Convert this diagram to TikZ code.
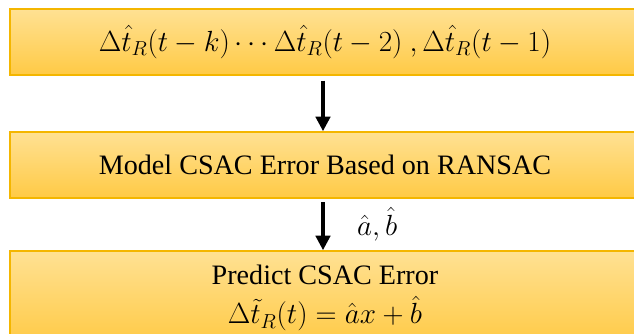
\documentclass[tikz,border=0pt]{standalone}
\usepackage{fontspec}
\setmainfont{Liberation Serif}
\usepackage{amsmath, amssymb}
\usetikzlibrary{arrows.meta, positioning, calc}
\definecolor{boxtop}{HTML}{FFE193}
\definecolor{boxbot}{HTML}{FFCA45}
\definecolor{boxline}{HTML}{F4B600}

\begin{document}
\begin{tikzpicture}[x=0.025cm, y=-0.025cm, thick,
    stepbox/.style={draw=boxline, line width=1.2pt, rectangle, top color=boxtop, bottom color=boxbot,
      minimum width=15.75cm, align=center, font=\fontsize{20}{26}\selectfont, inner sep=0pt},
    flow/.style={line width=2.2pt, -{Triangle[width=0.36cm, length=0.36cm]}}]
      \useasboundingbox (0, 0) rectangle (634, 334);
      \node[stepbox, minimum height=1.65cm] (1) at (325, 42) {$\Delta\hat{t}_R(t-k)\cdots\Delta\hat{t}_R(t-2)\ ,\Delta\hat{t}_R(t-1)$};
      \node[stepbox, minimum height=1.65cm] (2) at (325, 165) {Model CSAC Error Based on RANSAC};
      \node[stepbox, minimum height=2.35cm] (3) at (325, 298) {Predict CSAC Error\\[2pt] $\Delta\tilde{t}_R(t)=\hat{a}x+\hat{b}$};
      \coordinate (a) at (323, 0);
      \draw[flow, shorten <=0.12cm] (1.south -| a) -- (2.north -| a);
      \draw[flow, shorten <=0.08cm] (2.south -| a) -- node[right, xshift=0.7cm, font=\fontsize{20}{24}\selectfont] (ab) {$\hat{a},\hat{b}$} (3.north -| a);
    \end{tikzpicture}
\end{document}
